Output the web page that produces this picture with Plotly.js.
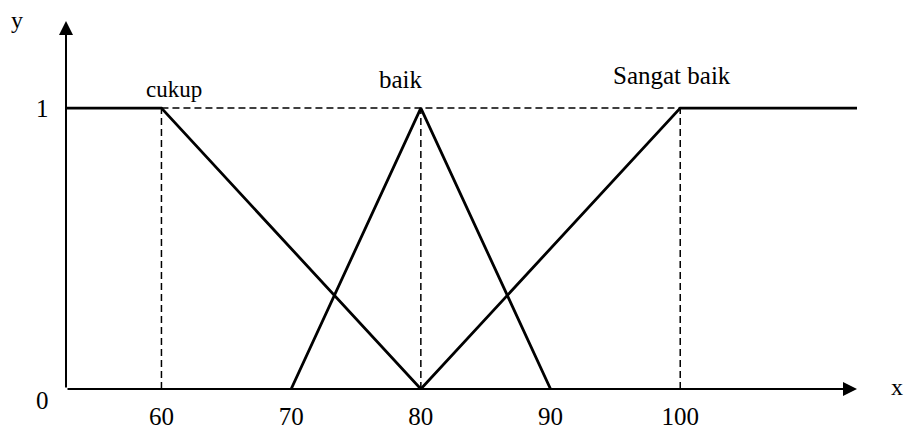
<!DOCTYPE html>
<html>
<head>
<meta charset="utf-8">
<script src="https://cdn.plot.ly/plotly-3.0.1.min.js"></script>
<style>html,body{margin:0;padding:0;background:#fff;}#chart{width:906px;height:431px;}</style>
</head>
<body>
<div id="chart"></div>
<script>
// Axis extent (x units) and top of y arrow
var xStart = 52.64;
var xEnd = 113.63;
var yTop = 1.31;

// Membership functions
var cukupX = [xStart, 60, 80];
var cukupY = [1, 1, 0];
var baikX = [70, 80, 90];
var baikY = [0, 1, 0];
var sangatX = [80, 100, xEnd];
var sangatY = [0, 1, 1];

// Set names and label anchor points
var setNames = ['cukup', 'baik', 'Sangat baik'];
var setLabelX = [61.0, 78.5, 99.4];
var setLabelY = [1.065, 1.10, 1.115];

// Guide (dashed) lines
var guideX = [60, 80, 100];
var guideLevel = 1;

// Tick labels
var xTicks = [60, 70, 80, 90, 100];
var xTickText = ['60', '70', '80', '90', '100'];
var yTickText = ['0', '1'];
var axisNames = ['x', 'y'];

var FONT = 'Liberation Serif, Times New Roman, serif';
var BLACK = '#000000';

var traces = [];
// dashed horizontal at y=1
traces.push({x: [60, xEnd], y: [guideLevel, guideLevel], mode: 'lines',
  line: {color: BLACK, width: 1.5, dash: '7px,4px'}, hoverinfo: 'skip', showlegend: false});
// dashed verticals
guideX.forEach(function (gx) {
  traces.push({x: [gx, gx], y: [0, guideLevel], mode: 'lines',
    line: {color: BLACK, width: 1.5, dash: '7px,4px'}, hoverinfo: 'skip', showlegend: false});
});
// membership functions
[[cukupX, cukupY, setNames[0]], [baikX, baikY, setNames[1]], [sangatX, sangatY, setNames[2]]].forEach(function (s) {
  traces.push({x: s[0], y: s[1], name: s[2], mode: 'lines',
    line: {color: BLACK, width: 2.8}, showlegend: false});
});

var annotations = [];
// axes with arrows
annotations.push({x: xEnd, y: 0, xref: 'x', yref: 'y', ax: xStart, ay: 0, axref: 'x', ayref: 'y',
  showarrow: true, arrowhead: 2, arrowwidth: 2, arrowsize: 1.4, arrowcolor: BLACK, text: ''});
annotations.push({x: xStart, y: yTop, xref: 'x', yref: 'y', ax: xStart, ay: 0, axref: 'x', ayref: 'y',
  showarrow: true, arrowhead: 2, arrowwidth: 2, arrowsize: 1.4, arrowcolor: BLACK, text: ''});
// set names
var setSizes = [23, 25, 25];
setNames.forEach(function (n, i) {
  annotations.push({x: setLabelX[i], y: setLabelY[i], xref: 'x', yref: 'y', text: n, showarrow: false,
    font: {family: FONT, size: setSizes[i], color: BLACK}});
});
// y tick labels
annotations.push({x: 0, xref: 'paper', y: 0, yref: 'y', text: yTickText[0], showarrow: false,
  xanchor: 'center', yanchor: 'middle', xshift: -24, yshift: -11, font: {family: FONT, size: 25, color: BLACK}});
annotations.push({x: 0, xref: 'paper', y: 1, yref: 'y', text: yTickText[1], showarrow: false,
  xanchor: 'center', yanchor: 'middle', xshift: -24, font: {family: FONT, size: 25, color: BLACK}});
// axis names
annotations.push({x: 1, xref: 'paper', y: 0, yref: 'y', text: axisNames[0], showarrow: false,
  xanchor: 'center', yanchor: 'middle', xshift: 40, yshift: 2, font: {family: FONT, size: 24, color: BLACK}});
annotations.push({x: 0, xref: 'paper', y: 1, yref: 'paper', text: axisNames[1], showarrow: false,
  xanchor: 'center', yanchor: 'middle', xshift: -49, yshift: 1, font: {family: FONT, size: 24, color: BLACK}});

var layout = {
  width: 906, height: 431,
  margin: {l: 66, r: 49, t: 21, b: 42, pad: 0},
  paper_bgcolor: '#ffffff', plot_bgcolor: '#ffffff',
  showlegend: false,
  xaxis: {range: [xStart, xEnd], showgrid: false, zeroline: false, showline: false,
    tickmode: 'array', tickvals: xTicks, ticktext: xTickText, ticks: '',
    ticklabelstandoff: 10,
    tickfont: {family: FONT, size: 25, color: BLACK}, fixedrange: true},
  yaxis: {range: [0, yTop], showgrid: false, zeroline: false, showline: false,
    showticklabels: false, ticks: '', fixedrange: true},
  annotations: annotations
};

Plotly.newPlot('chart', traces, layout, {displayModeBar: false, staticPlot: true});
</script>
</body>
</html>
